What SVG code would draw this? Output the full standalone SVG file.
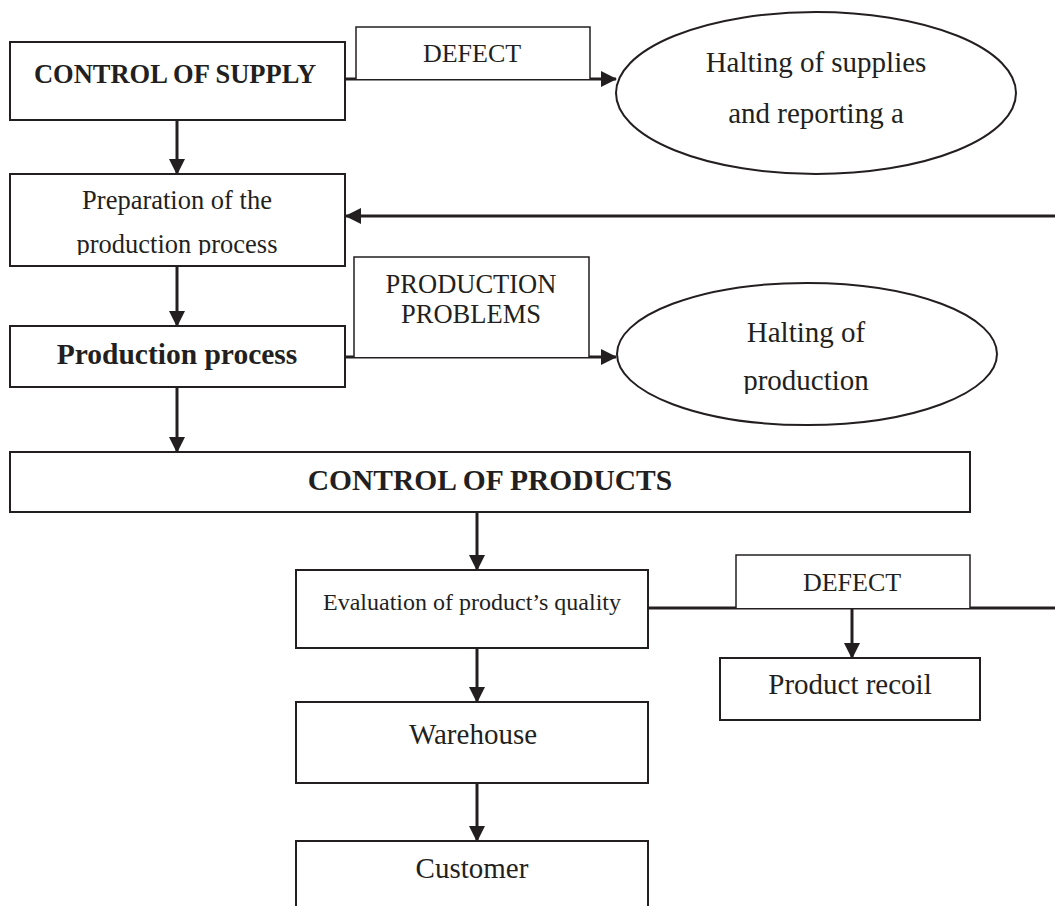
<svg xmlns="http://www.w3.org/2000/svg" width="1055" height="906" viewBox="0 0 1055 906">
<style>
.box{fill:#fff;stroke:#231f20;stroke-width:2}
.ell{fill:#fff;stroke:#231f20;stroke-width:2}
.lbl{fill:#fff;stroke:#231f20;stroke-width:1.5}
.conn{fill:none;stroke:#231f20;stroke-width:3}
text{font-family:"Liberation Serif","Times New Roman",serif;fill:#231f20;text-anchor:middle}
.b{font-weight:bold}
</style>
<defs>
<marker id="arr" markerUnits="userSpaceOnUse" markerWidth="16" markerHeight="16" refX="15" refY="8" orient="auto">
<path d="M0,0 L16,8 L0,16 Z" fill="#231f20"/>
</marker>
<clipPath id="clipPrep"><rect x="10" y="174" width="335" height="81"/></clipPath>
<clipPath id="clipHalt2"><rect x="600" y="280" width="420" height="114"/></clipPath>
</defs>
<rect width="1055" height="906" fill="#fff"/>

<g id="connectors">
<line class="conn" x1="177" y1="120" x2="177" y2="174" marker-end="url(#arr)"/>
<line class="conn" x1="345" y1="79" x2="616" y2="79" marker-end="url(#arr)"/>
<line class="conn" x1="1055" y1="216" x2="346" y2="216" marker-end="url(#arr)"/>
<line class="conn" x1="177" y1="266" x2="177" y2="326" marker-end="url(#arr)"/>
<line class="conn" x1="345" y1="357" x2="616" y2="357" marker-end="url(#arr)"/>
<line class="conn" x1="177" y1="387" x2="177" y2="452" marker-end="url(#arr)"/>
<line class="conn" x1="477" y1="512" x2="477" y2="570" marker-end="url(#arr)"/>
<line class="conn" x1="648" y1="608" x2="1055" y2="608"/>
<line class="conn" x1="852" y1="608" x2="852" y2="658" marker-end="url(#arr)"/>
<line class="conn" x1="477" y1="648" x2="477" y2="702" marker-end="url(#arr)"/>
<line class="conn" x1="477" y1="783" x2="477" y2="841" marker-end="url(#arr)"/>
</g>

<g id="control-supply">
<rect class="box" x="10" y="42" width="335" height="78"/>
<text class="b" x="175" y="83" font-size="26.5">CONTROL OF SUPPLY</text>
</g>

<g id="defect-1">
<path class="lbl" d="M356,79 V27 H590 V79"/>
<text x="472" y="62" font-size="26">DEFECT</text>
</g>

<g id="halting-supplies">
<ellipse class="ell" cx="816" cy="93" rx="200" ry="81"/>
<text x="816" y="72" font-size="29">Halting of supplies</text>
<text x="816" y="123" font-size="29">and reporting a</text>
</g>

<g id="preparation">
<rect class="box" x="10" y="174" width="335" height="92"/>
<g clip-path="url(#clipPrep)">
<text x="177" y="209" font-size="26.5">Preparation of the</text>
<text x="177" y="253" font-size="26.5">production process</text>
</g>
</g>

<g id="production-problems">
<path class="lbl" d="M354,357 V257 H589 V357"/>
<text x="471" y="293" font-size="26.5">PRODUCTION</text>
<text x="471" y="323" font-size="26.5">PROBLEMS</text>
</g>

<g id="production-process">
<rect class="box" x="10" y="326" width="335" height="61"/>
<text class="b" x="177" y="364" font-size="29.5">Production process</text>
</g>

<g id="halting-production">
<ellipse class="ell" cx="807" cy="354" rx="190" ry="71"/>
<g clip-path="url(#clipHalt2)">
<text x="806" y="342" font-size="29">Halting of</text>
<text x="806" y="390" font-size="29">production</text>
</g>
</g>

<g id="control-products">
<rect class="box" x="10" y="452" width="960" height="60"/>
<text class="b" x="490" y="490" font-size="29.5">CONTROL OF PRODUCTS</text>
</g>

<g id="evaluation">
<rect class="box" x="296" y="570" width="352" height="78"/>
<text x="472" y="610" font-size="24">Evaluation of product’s quality</text>
</g>

<g id="defect-2">
<path class="lbl" d="M736,608 V555 H970 V608"/>
<text x="852" y="591" font-size="26">DEFECT</text>
</g>

<g id="product-recoil">
<rect class="box" x="720" y="658" width="260" height="62"/>
<text x="850" y="694" font-size="29">Product recoil</text>
</g>

<g id="warehouse">
<rect class="box" x="296" y="702" width="352" height="81"/>
<text x="473" y="744" font-size="29">Warehouse</text>
</g>

<g id="customer">
<rect class="box" x="296" y="841" width="352" height="80"/>
<text x="472" y="878" font-size="29">Customer</text>
</g>
</svg>
